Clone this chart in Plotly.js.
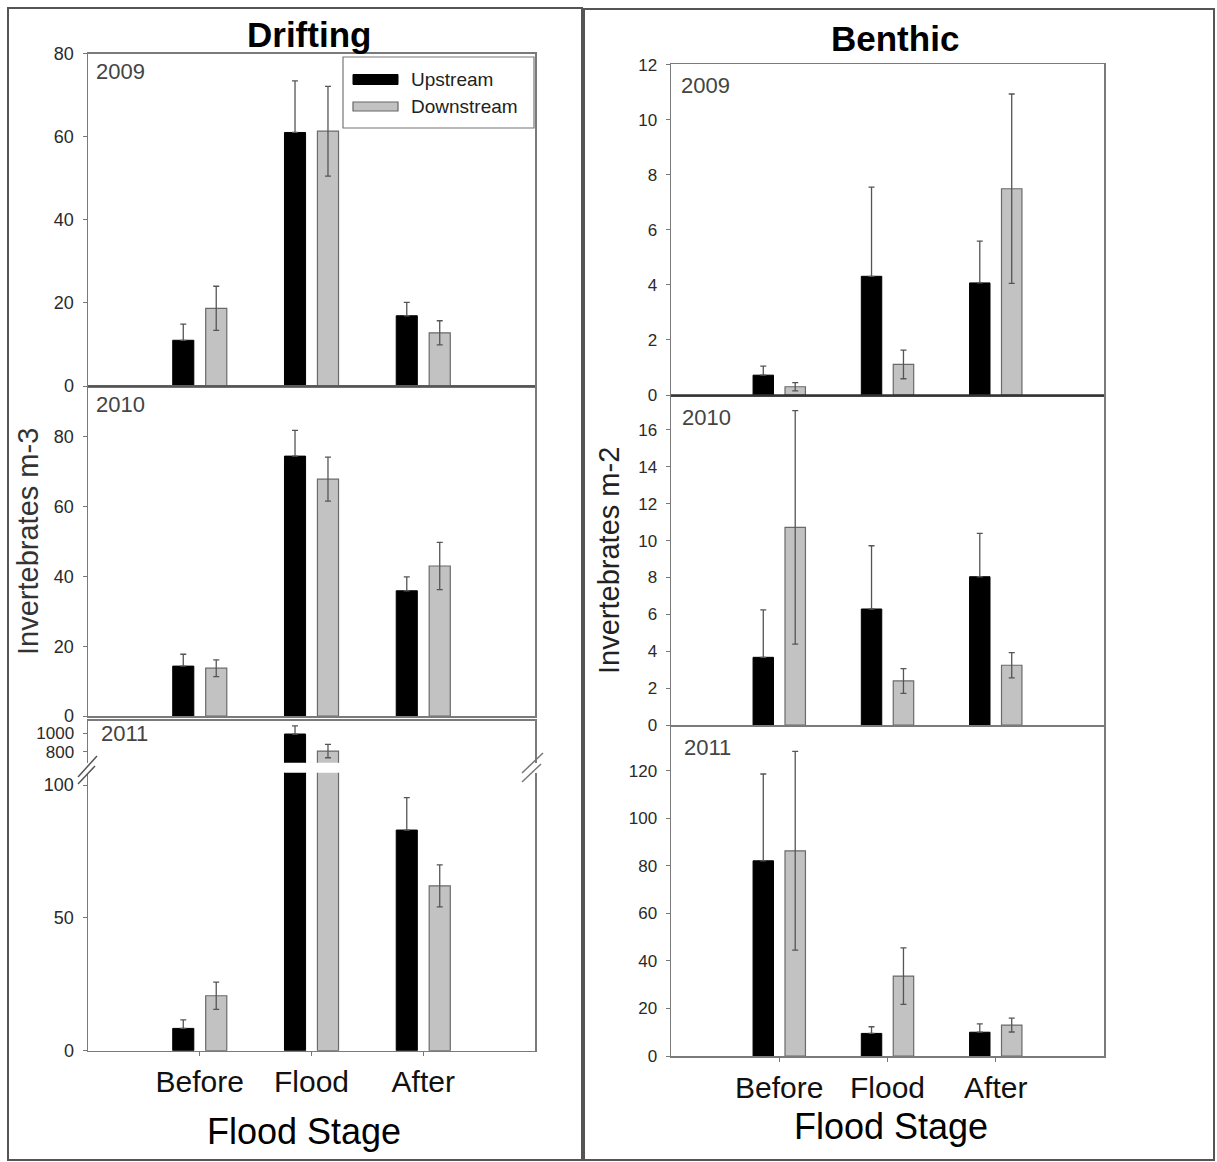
<!DOCTYPE html>
<html><head><meta charset="utf-8">
<script src="https://cdn.plot.ly/plotly-3.0.1.min.js"></script>
<style>html,body{margin:0;padding:0;background:#fff;} #chart{width:1217px;height:1162px;}</style>
</head><body><div id="chart"></div>
<script>
// ---------- data ----------
const stages = ['Before', 'Flood', 'After'];
const noErr = [0, 0, 0];

// Drifting (Invertebrates m-3)
const drift2009Up = [11.0, 61.0, 16.9];
const drift2009UpErr = [3.9, 12.4, 3.2];
const drift2009Down = [18.7, 61.3, 12.8];
const drift2009DownErr = [5.3, 10.8, 2.9];

const drift2010Up = [14.3, 74.5, 35.9];
const drift2010UpErr = [3.4, 7.4, 4.0];
const drift2010Down = [13.7, 67.9, 43.0];
const drift2010DownErr = [2.4, 6.3, 6.8];

const drift2011Up = [8.4, 992, 83.1];
const drift2011UpErr = [3.2, 88, 12.2];
const drift2011Down = [20.7, 807, 62.1];
const drift2011DownErr = [5.1, 73, 7.9];

// Benthic (Invertebrates m-2)
const benth2009Up = [0.72, 4.31, 4.07];
const benth2009UpErr = [0.33, 3.24, 1.52];
const benth2009Down = [0.30, 1.11, 7.49];
const benth2009DownErr = [0.15, 0.52, 3.44];

const benth2010Up = [3.67, 6.29, 8.04];
const benth2010UpErr = [2.57, 3.43, 2.35];
const benth2010Down = [10.72, 2.39, 3.24];
const benth2010DownErr = [6.33, 0.67, 0.68];

const benth2011Up = [82.1, 9.5, 10.0];
const benth2011UpErr = [36.5, 2.8, 3.5];
const benth2011Down = [86.3, 33.6, 13.0];
const benth2011DownErr = [41.8, 11.9, 2.9];

const driftTicks2009 = [0, 20, 40, 60, 80];
const driftTicks2010 = [0, 20, 40, 60, 80];
const driftTicks2011Hi = [800, 1000];
const driftTicks2011Lo = [0, 50, 100];
const benthTicks2009 = [0, 2, 4, 6, 8, 10, 12];
const benthTicks2010 = [0, 2, 4, 6, 8, 10, 12, 14, 16];
const benthTicks2011 = [0, 20, 40, 60, 80, 100, 120];

// ---------- helpers ----------
const W = 1217, H = 1162;
const px = v => v / W;
const py = v => 1 - v / H;
const FONT = 'Liberation Sans, Arial, sans-serif';

function pair(up, upErr, down, downErr, xa, ya) {
  return [
    {type: 'bar', x: stages, y: up, xaxis: xa, yaxis: ya, name: 'Upstream', showlegend: false,
     marker: {color: '#000000', line: {color: '#000000', width: 1}},
     error_y: {type: 'data', symmetric: false, array: upErr, arrayminus: noErr, color: '#555555', thickness: 1.3, width: 3}},
    {type: 'bar', x: stages, y: down, xaxis: xa, yaxis: ya, name: 'Downstream', showlegend: false,
     marker: {color: '#c2c2c2', line: {color: '#6a6a6a', width: 1.2}},
     error_y: {type: 'data', array: downErr, color: '#555555', thickness: 1.3, width: 3}}
  ];
}

const data = [].concat(
  pair(drift2009Up, drift2009UpErr, drift2009Down, drift2009DownErr, 'x', 'y'),
  pair(drift2010Up, drift2010UpErr, drift2010Down, drift2010DownErr, 'x2', 'y2'),
  pair(drift2011Up, drift2011UpErr, drift2011Down, drift2011DownErr, 'x3', 'y3'),
  pair(drift2011Up, drift2011UpErr, drift2011Down, drift2011DownErr, 'x4', 'y4'),
  pair(benth2009Up, benth2009UpErr, benth2009Down, benth2009DownErr, 'x5', 'y5'),
  pair(benth2010Up, benth2010UpErr, benth2010Down, benth2010DownErr, 'x6', 'y6'),
  pair(benth2011Up, benth2011UpErr, benth2011Down, benth2011DownErr, 'x7', 'y7')
);

const LX = [px(88), px(535)], RX = [px(671), px(1104)];
const LINE = '#7a7a7a';

function xax(dom, anchor, opts) {
  return Object.assign({
    domain: dom, anchor: anchor, type: 'category', categoryorder: 'array', categoryarray: stages,
    range: [-1, 3], showline: true, mirror: true, linecolor: LINE, linewidth: 1.5,
    showgrid: false, zeroline: false, ticks: '', showticklabels: false, fixedrange: true
  }, opts || {});
}
function yax(top, bottom, anchor, range, tickvals, size, opts) {
  return Object.assign({
    domain: [py(bottom), py(top)], anchor: anchor, range: range, tickvals: tickvals,
    showline: true, mirror: true, linecolor: LINE, linewidth: 1.5,
    showgrid: false, zeroline: false, ticks: 'outside', ticklen: 4, tickcolor: '#777',
    tickfont: {family: FONT, size: size, color: '#2a2a2a'}, ticklabelstandoff: 5, fixedrange: true
  }, opts || {});
}
const bottomX = {showticklabels: true, ticks: 'outside', ticklen: 4, tickcolor: '#777',
  tickfont: {family: FONT, size: 30, color: '#111'}, ticklabelstandoff: 0, mirror: false};

const layout = {
  width: W, height: H, margin: {l: 0, r: 0, t: 0, b: 0},
  paper_bgcolor: '#fff', plot_bgcolor: 'rgba(0,0,0,0)',
  barmode: 'group', bargap: 0.41, bargroupgap: 0.36, showlegend: false,
  xaxis: xax(LX, 'y'),
  xaxis2: xax(LX, 'y2'),
  xaxis3: xax(LX, 'y3', {side: 'top', mirror: false}),
  xaxis4: xax(LX, 'y4', bottomX),
  xaxis5: xax(RX, 'y5'),
  xaxis6: xax(RX, 'y6'),
  xaxis7: xax(RX, 'y7', bottomX),
  yaxis: yax(53.5, 386, 'x', [0, 80], driftTicks2009, 18),
  yaxis2: yax(386.7, 716, 'x2', [0, 94.4], driftTicks2010, 18),
  yaxis3: yax(720.7, 762.7, 'x3', [680, 1137], driftTicks2011Hi, 17),
  yaxis4: yax(772.7, 1050.7, 'x4', [0, 104.7], driftTicks2011Lo, 18),
  yaxis5: yax(64, 395, 'x5', [0, 12.02], benthTicks2009, 17),
  yaxis6: yax(396, 725, 'x6', [0, 17.84], benthTicks2010, 17),
  yaxis7: yax(726.7, 1056, 'x7', [0, 138.5], benthTicks2011, 17),
  annotations: [],
  shapes: []
};

const A = layout.annotations, S = layout.shapes;
function txt(text, x, y, size, opts) {
  A.push(Object.assign({text: text, x: px(x), y: py(y), xref: 'paper', yref: 'paper', showarrow: false,
    xanchor: 'center', yanchor: 'middle', font: {family: FONT, size: size, color: '#111'}}, opts || {}));
}
// panel titles
txt('<b>Drifting</b>', 309, 34, 35, {font: {family: FONT, size: 35, color: '#000'}});
txt('<b>Benthic</b>', 895, 38, 35, {font: {family: FONT, size: 35, color: '#000'}});
// year labels
const yr = {font: {family: FONT, size: 22, color: '#444'}, xanchor: 'left'};
txt('2009', 94, 71, 22, yr);
txt('2010', 94, 405, 22, yr);
txt('2011', 99, 733, 22, yr);
txt('2009', 679, 85, 22, yr);
txt('2010', 680, 418, 22, yr);
txt('2011', 682, 747, 22, yr);
// y titles
txt('Invertebrates m-3', 28, 542, 29, {textangle: -90, font: {family: FONT, size: 29, color: '#333'}});
txt('Invertebrates m-2', 609, 561, 29, {textangle: -90, font: {family: FONT, size: 29, color: '#222'}});
// x titles
txt('Flood Stage', 304, 1131, 36, {font: {family: FONT, size: 36, color: '#000'}});
txt('Flood Stage', 891, 1126, 36, {font: {family: FONT, size: 36, color: '#000'}});
// legend
txt('Upstream', 409, 79, 19, {xanchor: 'left', font: {family: FONT, size: 19, color: '#222'}});
txt('Downstream', 409, 106, 19, {xanchor: 'left', font: {family: FONT, size: 19, color: '#222'}});

function rect(x0, y0, x1, y1, line, fill) {
  S.push({type: 'rect', xref: 'paper', yref: 'paper', x0: px(x0), x1: px(x1), y0: py(y1), y1: py(y0),
    line: line, fillcolor: fill || 'rgba(0,0,0,0)'});
}
function seg(x0, y0, x1, y1, color, width) {
  S.push({type: 'line', xref: 'paper', yref: 'paper', x0: px(x0), x1: px(x1), y0: py(y0), y1: py(y1),
    line: {color: color, width: width}});
}
// outer frames
rect(8, 8, 582, 1160, {color: '#555', width: 2});
rect(584, 9, 1214, 1160, {color: '#555', width: 2});
// darker baseline between benthic 2009 and 2010 panels, and drifting 2009/2010
seg(671, 395.5, 1104, 395.5, '#333', 2.5);
seg(88, 386.3, 535, 386.3, '#555', 2);
// legend box & swatches
rect(343, 57, 534, 128, {color: '#777', width: 1.2}, '#fff');
rect(353, 74.5, 398, 84.5, {color: '#000', width: 1}, '#000');
rect(353, 102, 398, 111, {color: '#666', width: 1.2}, '#c2c2c2');
// axis break marks
seg(78, 777, 97, 756, '#555', 1.5);
seg(78, 784, 95, 766, '#555', 1.5);
seg(522, 773, 543, 753, '#777', 1.5);
seg(522, 782, 541, 764, '#777', 1.5);

Plotly.newPlot('chart', data, layout, {staticPlot: true});
</script>
</body></html>
